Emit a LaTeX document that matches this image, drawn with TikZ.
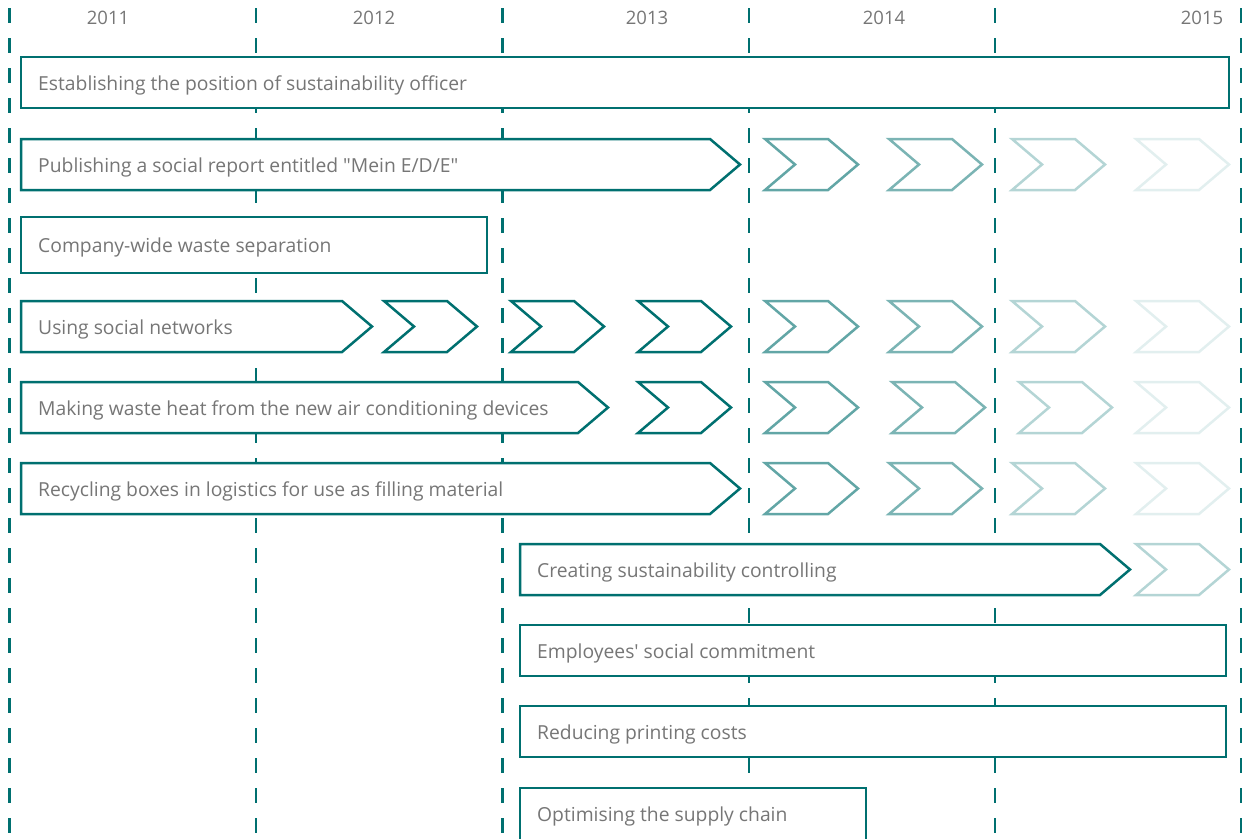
\documentclass[tikz,border=0pt]{standalone}
\usepackage{fontspec}
\setmainfont[Ligatures=TeXOff]{Open Sans}
\definecolor{tealc}{RGB}{0,112,112}
\definecolor{cA}{RGB}{98,166,166}
\definecolor{cB}{RGB}{123,180,180}
\definecolor{cC}{RGB}{180,213,213}
\definecolor{cD}{RGB}{226,239,239}
\definecolor{txt}{RGB}{118,118,118}
\begin{document}
\begin{tikzpicture}[x=1pt,y=-1pt,
  gridline/.style={draw=tealc, line width=2.4pt, dash pattern=on 14.5pt off 15.5pt},
  boxline/.style={draw=tealc, line width=2.5pt, fill=white},
  chevline/.style={line width=2.5pt, fill=white},
  lbl/.style={text=txt, font=\fontsize{19.3}{22}\selectfont, inner sep=0pt, anchor=base west},
  yr/.style={text=txt, font=\fontsize{18.5}{22}\selectfont, inner sep=0pt, anchor=base},
  chev/.pic={\path[pic actions] (0,0) -- (63,0) -- (93,25.5) -- (63,51) -- (0,51) -- (30,25.5) -- cycle;}
]
\useasboundingbox (0,0) rectangle (1242,838);

% vertical dashed year separators
\foreach \i/\x in {0/9.5,1/256,2/502.3,3/748.7,4/995,5/1241.5}{
  \coordinate (g\i t) at (\x,-22);
  \coordinate (g\i b) at (\x,850);
  \draw[gridline] (g\i t) -- (g\i b);
}

% year labels
\node[yr] (y2011) at (108,24) {2011};
\node[yr] (y2012) at (374,24) {2012};
\node[yr] (y2013) at (647,24) {2013};
\node[yr] (y2014) at (884,24) {2014};
\node[yr] (y2015) at (1202,24) {2015};

% row 1
\draw[boxline] (21,57) rectangle (1229,108);
\node[lbl] (t1) at (38,90) {Establishing the position of sustainability officer};

% row 2
\draw[boxline] (21,139) -- (710,139) -- (740,164.5) -- (710,190) -- (21,190) -- cycle;
\node[lbl] (t2) at (38,172) {Publishing a social report entitled "Mein E/D/E"};
\pic[chevline, draw=cA] at (765,139) {chev};
\pic[chevline, draw=cB] at (889,139) {chev};
\pic[chevline, draw=cC] at (1012,139) {chev};
\pic[chevline, draw=cD] at (1136,139) {chev};

% row 3
\draw[boxline] (21,217) rectangle (487,273);
\node[lbl] (t3) at (38,252.5) {Company-wide waste separation};

% row 4
\draw[boxline] (21,301) -- (342,301) -- (372,326.5) -- (342,352) -- (21,352) -- cycle;
\node[lbl] (t4) at (38,334) {Using social networks};
\pic[chevline, draw=tealc] at (384,301) {chev};
\pic[chevline, draw=tealc] at (511,301) {chev};
\pic[chevline, draw=tealc] at (638,301) {chev};
\pic[chevline, draw=cA] at (765,301) {chev};
\pic[chevline, draw=cB] at (889,301) {chev};
\pic[chevline, draw=cC] at (1012,301) {chev};
\pic[chevline, draw=cD] at (1136,301) {chev};

% row 5
\draw[boxline] (21,382) -- (578,382) -- (608,407.5) -- (578,433) -- (21,433) -- cycle;
\node[lbl] (t5) at (38,415) {Making waste heat from the new air conditioning devices};
\pic[chevline, draw=tealc] at (638,382) {chev};
\pic[chevline, draw=cA] at (765,382) {chev};
\pic[chevline, draw=cB] at (892,382) {chev};
\pic[chevline, draw=cC] at (1019,382) {chev};
\pic[chevline, draw=cD] at (1136,382) {chev};

% row 6
\draw[boxline] (21,463) -- (710,463) -- (740,488.5) -- (710,514) -- (21,514) -- cycle;
\node[lbl] (t6) at (38,496) {Recycling boxes in logistics for use as filling material};
\pic[chevline, draw=cA] at (765,463) {chev};
\pic[chevline, draw=cB] at (889,463) {chev};
\pic[chevline, draw=cC] at (1012,463) {chev};
\pic[chevline, draw=cD] at (1136,463) {chev};

% row 7
\draw[boxline] (520,544) -- (1100,544) -- (1130,569.5) -- (1100,595) -- (520,595) -- cycle;
\node[lbl] (t7) at (537,577) {Creating sustainability controlling};
\pic[chevline, draw=cC] at (1136,544) {chev};

% row 8
\draw[boxline] (520,625) rectangle (1226,676);
\node[lbl] (t8) at (537,658) {Employees' social commitment};

% row 9
\draw[boxline] (520,706) rectangle (1226,757);
\node[lbl] (t9) at (537,739) {Reducing printing costs};

% row 10
\draw[boxline] (520,788) rectangle (866,845);
\node[lbl] (t10) at (537,821) {Optimising the supply chain};
\end{tikzpicture}
\end{document}
